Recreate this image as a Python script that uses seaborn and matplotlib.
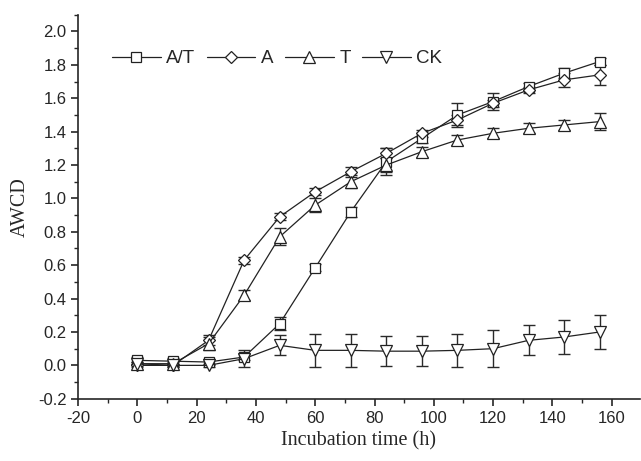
import matplotlib
matplotlib.use('Agg')
import matplotlib.pyplot as plt
import seaborn as sns
import pandas as pd
import numpy as np
from matplotlib.ticker import MultipleLocator

# Incubation time (h)
hours = [0, 12, 24, 36, 48, 60, 72, 84, 96, 108, 120, 132, 144, 156]

at_mean = [0.03, 0.025, 0.02, 0.05, 0.25, 0.585, 0.92, 1.22, 1.36, 1.50, 1.58, 1.67, 1.75, 1.82]
at_err = [0.02, 0.02, 0.02, 0.02, 0.04, 0.02, 0.03, 0.08, 0.03, 0.07, 0.05, 0.02, 0.03, 0.02]

a_mean = [0.0, 0.0, 0.15, 0.63, 0.89, 1.04, 1.16, 1.27, 1.39, 1.47, 1.57, 1.65, 1.71, 1.74]
a_err = [0.01, 0.01, 0.03, 0.02, 0.02, 0.02, 0.03, 0.03, 0.02, 0.03, 0.02, 0.02, 0.04, 0.06]

t_mean = [0.01, 0.01, 0.13, 0.42, 0.77, 0.96, 1.10, 1.20, 1.28, 1.35, 1.39, 1.42, 1.44, 1.46]
t_err = [0.01, 0.01, 0.04, 0.03, 0.05, 0.04, 0.04, 0.04, 0.03, 0.03, 0.03, 0.03, 0.03, 0.05]

ck_mean = [0.01, 0.0, 0.0, 0.04, 0.12, 0.09, 0.09, 0.085, 0.085, 0.09, 0.10, 0.15, 0.17, 0.20]
ck_err = [0.01, 0.01, 0.01, 0.05, 0.06, 0.10, 0.10, 0.09, 0.09, 0.10, 0.11, 0.09, 0.10, 0.10]

labels = ['A/T', 'A', 'T', 'CK']
markers = ['s', 'D', '^', 'v']
sizes = [7, 6.5, 8, 8]


def plot():
    sns.set_style('ticks')
    plt.rcParams['font.family'] = ['Liberation Sans', 'DejaVu Sans']
    plt.rcParams['axes.unicode_minus'] = False

    fig = plt.figure(figsize=(6.41, 4.61), dpi=100)
    ax = fig.add_axes([0.122, 0.135, 0.876, 0.833])

    series = [(at_mean, at_err), (a_mean, a_err), (t_mean, t_err), (ck_mean, ck_err)]
    rows = []
    for lab, (m, e) in zip(labels, series):
        for h, v, s in zip(hours, m, e):
            rows.append({'hours': h, 'awcd': v, 'err': s, 'group': lab})
    df = pd.DataFrame(rows)

    for lab, mk, ms in zip(labels, markers, sizes):
        d = df[df['group'] == lab]
        ax.errorbar(d['hours'], d['awcd'], yerr=d['err'], fmt='none',
                    ecolor='#2a2a2a', elinewidth=1.0, capsize=4, capthick=1.0,
                    zorder=2)
        sns.lineplot(data=d, x='hours', y='awcd', ax=ax, color='#222222',
                     linewidth=0.9, marker=mk, markersize=ms,
                     markerfacecolor='white', markeredgecolor='#222222',
                     markeredgewidth=0.9, label=lab, zorder=3)

    ax.set_xlim(-20, 169.5)
    ax.set_ylim(-0.2, 2.1)
    ax.xaxis.set_major_locator(MultipleLocator(20))
    ax.xaxis.set_minor_locator(MultipleLocator(10))
    ax.yaxis.set_minor_locator(MultipleLocator(0.1))
    ax.yaxis.set_major_formatter(matplotlib.ticker.FormatStrFormatter('%.1f'))
    ax.set_yticks(np.arange(-0.2, 2.01, 0.2))
    ax.tick_params(which='major', direction='out', length=5, width=1.2, labelsize=12)
    ax.tick_params(which='minor', direction='out', length=3, width=1.0)

    sns.despine(ax=ax)
    for sp in ['left', 'bottom']:
        ax.spines[sp].set_linewidth(1.2)

    ax.set_xlabel('Incubation time (h)', family='Liberation Serif', fontsize=14.5)
    ax.set_ylabel('AWCD', family='Liberation Serif', fontsize=14.5, labelpad=6)

    ax.legend(loc='center left', bbox_to_anchor=(0.03, 0.885), ncol=4, frameon=False,
              fontsize=13.5, handlelength=2.6, columnspacing=0.6, handletextpad=0.3)

    plt.savefig('out.png', dpi=100)


if __name__ == '__main__':
    plot()
